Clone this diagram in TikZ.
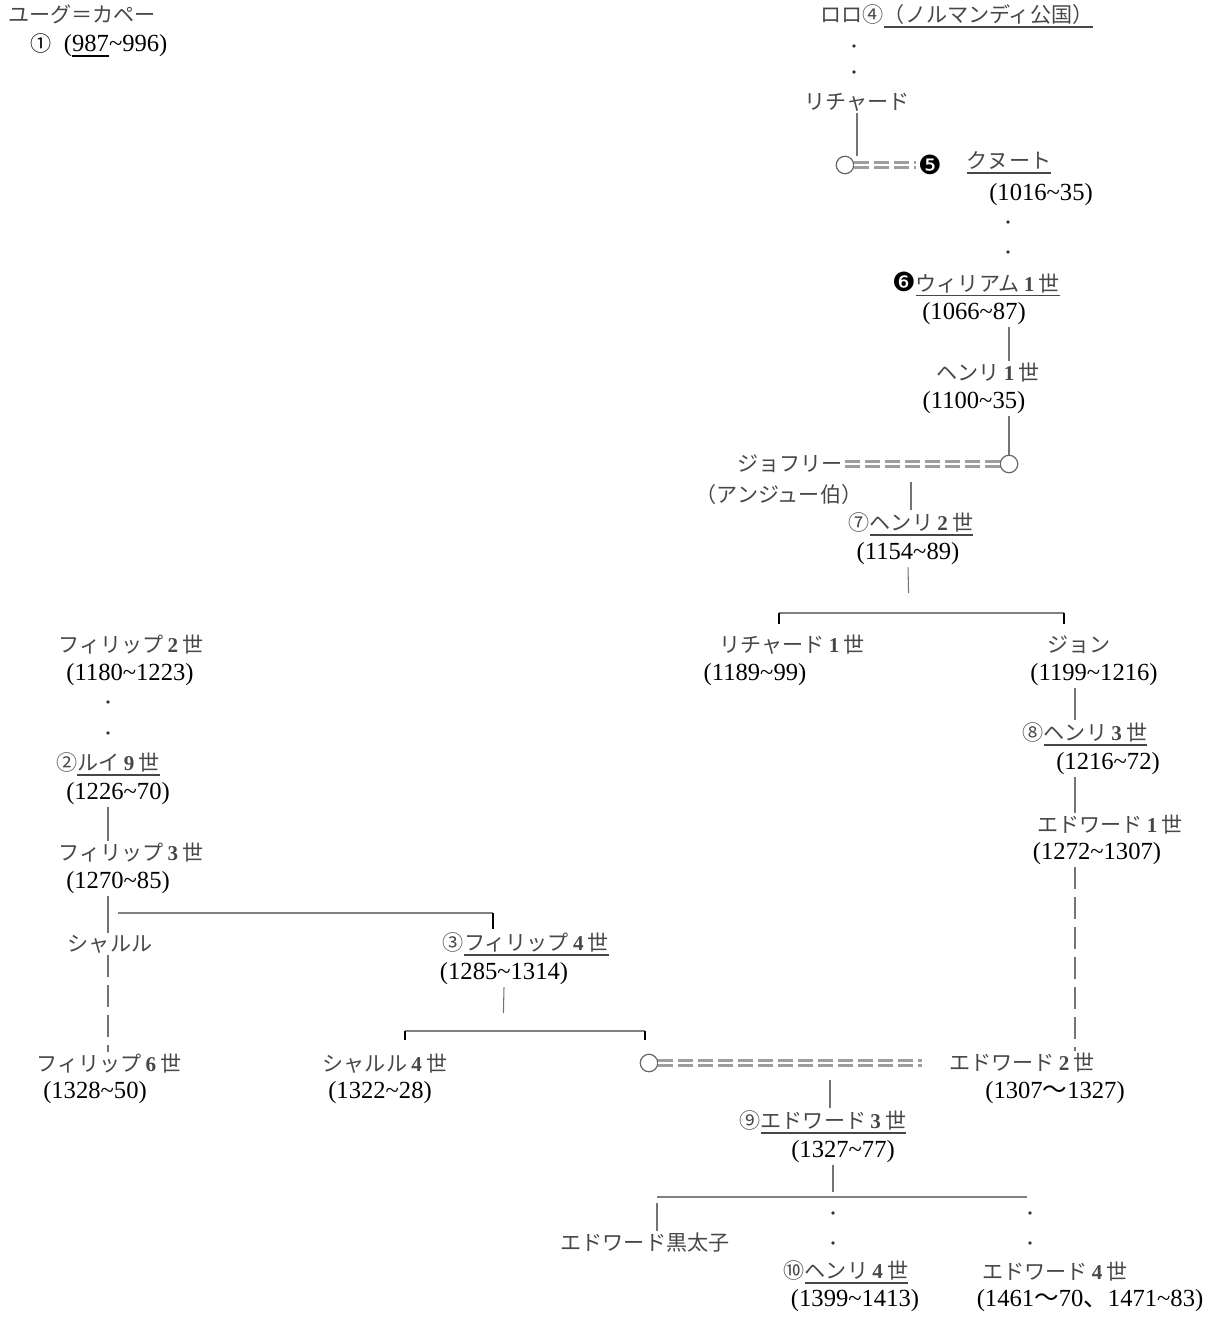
\documentclass[tikz,border=0pt]{standalone}
\usepackage{fontspec}
\setmainfont{Liberation Serif}
\newfontfamily\jpfont{Noto Sans CJK JP}
\newfontfamily\dingfont{DejaVu Sans}
\usepackage{tikz}

\newcommand{\sei}[1]{\hspace{0.2em}{\rmfamily\bfseries #1}\hspace{0.2em}世}
\newcommand{\undl}[1]{\sbox0{#1}\rlap{\rule[-3pt]{\wd0}{1pt}}\usebox0}
\newcommand{\tild}{\textasciitilde}
\newcommand{\zen}[1]{{\jpfont #1}}
\newcommand{\nega}[1]{{\dingfont\fontsize{15}{15}\selectfont\color{black}#1}}

\tikzset{
  who/.style={font=\jpfont\fontsize{12}{14}\selectfont, text=black!72, inner sep=1pt},
  year/.style={font=\fontsize{14}{16}\selectfont, inner sep=1pt},
  kin/.style={draw=black!55, line width=0.6pt},
  gapline/.style={kin, dash pattern=on 0.44cm off 0.16cm},
  sibs/.style={draw=black!50, line width=0.7pt},
  drop/.style={draw=black, line width=1.3pt},
  wed/.style={draw=black!38, line width=0.055cm, double=white, double distance=0.04cm, dash pattern=on 0.3cm off 0.1cm},
  spouse/.style={circle, draw=black!60, line width=0.7pt, minimum size=0.35cm, inner sep=0pt},
  gapdot/.style={circle, fill=black!80, minimum size=2.2pt, inner sep=0pt}
}

\begin{document}
\begin{tikzpicture}[x=0.02cm,y=-0.02cm]
  \useasboundingbox (0,0) rectangle (1209,1318);

  % Capet
  \node[who] (hugh) at (82,14) {ユーグ＝カペー};
  \node[year] (hughy) at (99,45) {\zen{\fontsize{12}{14}\selectfont ①}\hspace{0.5em}(\undl{987}\tild 996)};

  % Normandy / England
  \node[who] (rollo) at (957,16) {ロロ④\undl{（ノルマンディ公国）}};
  \node[gapdot] (d1) at (854,46) {};
  \node[gapdot] (d2) at (854,72) {};
  \node[who] (richard) at (857,102) {リチャード};
  \node[spouse] (m1) at (845,165) {};
  \node[who] (n5) at (930,165) {\nega{❺}};
  \node[who] (cnut) at (1009,163) {\undl{クヌート}};
  \node[year] (cnuty) at (1041,195) {(1016\tild 35)};
  \node[gapdot] (d3) at (1008,222) {};
  \node[gapdot] (d4) at (1008,252) {};
  \node[who] (will) at (976,284) {\nega{❻}\undl{ウィリアム\sei{1}}};
  \node[year] (willy) at (974,314) {(1066\tild 87)};
  \node[who] (henry1) at (988,373) {ヘンリ\sei{1}};
  \node[year] (henry1y) at (974,403) {(1100\tild 35)};
  \node[who] (geoff) at (790,464) {ジョフリー};
  \node[spouse] (m2) at (1009,464) {};
  \node[who] (geoffy) at (779,494) {（アンジュー伯）};
  \node[who] (henry2) at (911,524) {⑦\undl{ヘンリ\sei{2}}};
  \node[year] (henry2y) at (908,554) {(1154\tild 89)};
  \node[who] (rich1) at (792,645) {リチャード\sei{1}};
  \node[year] (rich1y) at (755,675) {(1189\tild 99)};
  \node[who] (john) at (1079,645) {ジョン};
  \node[year] (johny) at (1094,675) {(1199\tild 1216)};
  \node[who] (henry3) at (1085,734) {⑧\undl{ヘンリ\sei{3}}};
  \node[year] (henry3y) at (1108,764) {(1216\tild 72)};
  \node[who] (ed1) at (1110,825) {エドワード\sei{1}};
  \node[year] (ed1y) at (1097,854) {(1272\tild 1307)};
  \node[who] (ed2) at (1022,1063) {エドワード\sei{2}};
  \node[year] (ed2y) at (1055,1093) {(1307\zen{～}1327)};

  % France
  \node[who] (ph2) at (131,645) {フィリップ\sei{2}};
  \node[year] (ph2y) at (130,675) {(1180\tild 1223)};
  \node[gapdot] (d5) at (108,702) {};
  \node[gapdot] (d6) at (108,733) {};
  \node[who] (louis) at (108,764) {②\undl{ルイ\sei{9}}};
  \node[year] (louisy) at (118,794) {(1226\tild 70)};
  \node[who] (ph3) at (131,853) {フィリップ\sei{3}};
  \node[year] (ph3y) at (118,883) {(1270\tild 85)};
  \node[who] (charles) at (110,944) {シャルル};
  \node[who] (ph6) at (109,1064) {フィリップ\sei{6}};
  \node[year] (ph6y) at (95,1093) {(1328\tild 50)};
  \node[who] (ph4) at (526,944) {③\undl{フィリップ\sei{4}}};
  \node[year] (ph4y) at (504,974) {(1285\tild 1314)};
  \node[who] (ch4) at (385,1064) {シャルル\sei{4}};
  \node[year] (ch4y) at (380,1093) {(1322\tild 28)};
  \node[spouse] (m3) at (649,1063) {};

  % Edward III and after
  \node[who] (ed3) at (823,1122) {⑨\undl{エドワード\sei{3}}};
  \node[year] (ed3y) at (843,1152) {(1327\tild 77)};
  \node[who] (bp) at (645,1243) {エドワード黒太子};
  \node[gapdot] (d7) at (833,1213) {};
  \node[gapdot] (d8) at (833,1243) {};
  \node[gapdot] (d9) at (1030,1213) {};
  \node[gapdot] (d10) at (1030,1243) {};
  \node[who] (henry4) at (846,1272) {⑩\undl{ヘンリ\sei{4}}};
  \node[year] (henry4y) at (855,1301) {(1399\tild 1413)};
  \node[who] (ed4) at (1055,1272) {エドワード\sei{4}};
  \node[year] (ed4y) at (1090,1301) {(1461\zen{～}70\zen{、}1471\tild 83)};

  % bracket points
  \coordinate (br1l) at (779,613);
  \coordinate (br1r) at (1064,613);
  \coordinate (br1m) at (909,613);
  \coordinate (axJ) at (1075,700);
  \coordinate (br2l) at (118,913);
  \coordinate (br2r) at (493,913);
  \coordinate (br3l) at (405,1031);
  \coordinate (br3r) at (645,1031);
  \coordinate (br3m) at (503,1031);
  \coordinate (br4l) at (657,1197);
  \coordinate (br4r) at (1027,1197);
  \coordinate (br4m) at (833,1197);

  % lines
  \draw[kin] (richard.south) -- (richard.south |- m1.north);
  \draw[wed] (m1) -- (n5);
  \draw[kin] (willy.south -| m2) -- (henry1.north -| m2);
  \draw[kin] (henry1y.south -| m2) -- (m2.north);
  \draw[wed] (geoff) -- (m2);
  \draw[kin] (henry2.north) -- (henry2.north |- geoffy.north);
  \draw[kin, shorten >=0.4cm] (henry2y.south) -- (br1m);
  \draw[sibs] (br1l) -- (br1r);
  \draw[drop] (br1l) -- ++(0,11);
  \draw[drop] (br1r) -- ++(0,11);
  \draw[kin] (johny.south -| axJ) -- (henry3.north -| axJ);
  \draw[kin] (henry3y.south -| axJ) -- (ed1.north -| axJ);
  \draw[gapline] (ed1y.south -| axJ) -- (ed2.north -| axJ);

  \draw[kin] (louisy.south -| louis) -- (ph3.north -| louis);
  \draw[kin] (ph3y.south -| louis) -- (charles.north -| louis);
  \draw[gapline] (charles.south -| louis) -- (ph6.north -| louis);
  \draw[sibs] (br2l) -- (br2r);
  \draw[drop] (br2r) -- ++(0,16);
  \draw[kin, shorten >=0.36cm] (ph4y.south) -- (br3m);
  \draw[sibs] (br3l) -- (br3r);
  \draw[drop] (br3l) -- ++(0,9);
  \draw[drop] (br3r) -- ++(0,9);
  \draw[wed, shorten >=0.5cm] (m3) -- (ed2);
  \draw[kin] ([xshift=0.14cm]ed3.north) -- ([xshift=0.14cm]ed3.north |- ed2y.north);
  \draw[kin, shorten >=0.1cm] (ed3y.south -| br4m) -- (br4m);
  \draw[sibs, line width=1.2pt] (br4l) -- (br4r);
  \draw[kin] ([yshift=-0.12cm]br4l) -- (bp.north -| br4l);
\end{tikzpicture}
\end{document}
